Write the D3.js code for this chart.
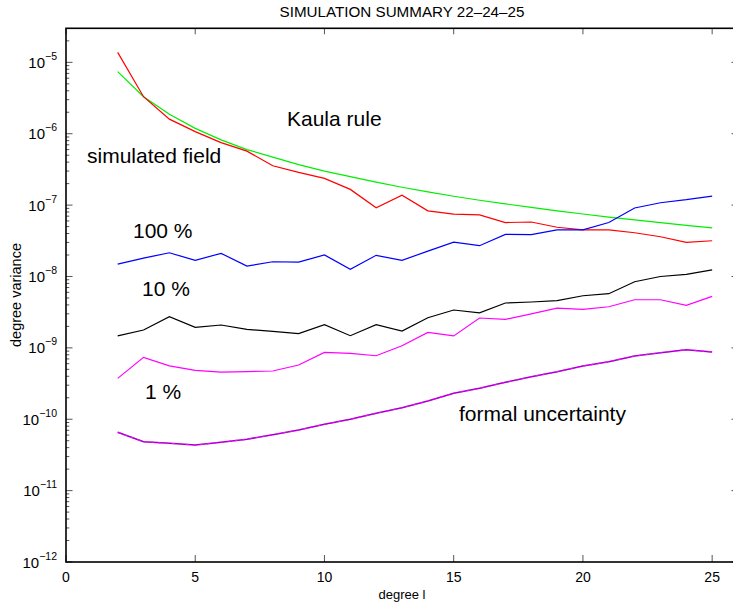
<!DOCTYPE html>
<html>
<head>
<meta charset="utf-8">
<script src="https://cdn.jsdelivr.net/npm/d3@7"></script>
<style>
  body { margin: 0; background: #fff; }
  text { font-family: "Liberation Sans", Arial, Helvetica, sans-serif; }
</style>
</head>
<body>
<svg id="chart" width="733" height="605"></svg>
<script>
// spherical harmonic degree
var degrees = d3.range(2, 26);

// degree variances
var kaula = [7.4e-6, 3.3e-6, 1.87e-6, 1.19e-6, 8.2e-7, 6.0e-7, 4.7e-7, 3.7e-7, 3.0e-7, 2.5e-7,
             2.1e-7, 1.78e-7, 1.53e-7, 1.33e-7, 1.17e-7, 1.04e-7, 9.3e-8, 8.3e-8, 7.5e-8, 6.8e-8,
             6.2e-8, 5.7e-8, 5.2e-8, 4.8e-8];
var simulated = [1.38e-5, 3.3e-6, 1.6e-6, 1.07e-6, 7.5e-7, 5.7e-7, 3.56e-7, 2.87e-7, 2.37e-7, 1.66e-7,
                 9.2e-8, 1.38e-7, 8.3e-8, 7.5e-8, 7.3e-8, 5.7e-8, 5.8e-8, 4.9e-8, 4.5e-8, 4.5e-8,
                 4.1e-8, 3.6e-8, 3.0e-8, 3.17e-8];
var err100 = [1.49e-8, 1.81e-8, 2.15e-8, 1.68e-8, 2.11e-8, 1.4e-8, 1.61e-8, 1.59e-8, 2.0e-8, 1.26e-8,
              1.98e-8, 1.68e-8, 2.27e-8, 3.03e-8, 2.7e-8, 3.89e-8, 3.85e-8, 4.5e-8, 4.5e-8, 5.7e-8,
              9.1e-8, 1.08e-7, 1.19e-7, 1.34e-7];
var err10 = [1.47e-9, 1.78e-9, 2.73e-9, 1.94e-9, 2.09e-9, 1.82e-9, 1.70e-9, 1.58e-9, 2.11e-9, 1.48e-9,
             2.11e-9, 1.72e-9, 2.64e-9, 3.39e-9, 3.1e-9, 4.25e-9, 4.39e-9, 4.58e-9, 5.37e-9, 5.74e-9,
             8.45e-9, 1.0e-8, 1.07e-8, 1.24e-8];
var err1 = [3.74e-10, 7.36e-10, 5.6e-10, 4.84e-10, 4.58e-10, 4.65e-10, 4.74e-10, 5.75e-10, 8.65e-10, 8.38e-10,
            7.76e-10, 1.07e-9, 1.65e-9, 1.47e-9, 2.62e-9, 2.51e-9, 3.0e-9, 3.61e-9, 3.46e-9, 3.77e-9,
            4.72e-9, 4.72e-9, 3.94e-9, 5.27e-9];
var formal = [6.56e-11, 4.84e-11, 4.6e-11, 4.35e-11, 4.75e-11, 5.24e-11, 6.08e-11, 7.07e-11, 8.49e-11, 9.97e-11,
              1.21e-10, 1.45e-10, 1.8e-10, 2.31e-10, 2.71e-10, 3.29e-10, 3.94e-10, 4.63e-10, 5.56e-10, 6.39e-10,
              7.69e-10, 8.55e-10, 9.42e-10, 8.75e-10];

var xTicks = [0, 5, 10, 15, 20, 25];
var yExponents = [-12, -11, -10, -9, -8, -7, -6, -5];

var svg = d3.select('#chart'),
    plotLeft = 66, plotRight = 738, plotTop = 28.3, plotBottom = 562;

var x = d3.scaleLinear().domain([0, 26]).range([plotLeft, plotRight]);
var y = d3.scaleLog().domain([1e-12, 3e-5]).range([plotBottom, plotTop]);

// title
svg.append('text')
    .attr('x', (plotLeft + plotRight) / 2).attr('y', 17)
    .attr('text-anchor', 'middle')
    .style('font-size', '15.2px')
    .text('SIMULATION SUMMARY 22–24–25');

// ticks
var tickG = svg.append('g').attr('stroke', '#555').attr('stroke-width', 1);
xTicks.forEach(function(t) {
  tickG.append('line').attr('x1', x(t)).attr('x2', x(t)).attr('y1', plotBottom).attr('y2', plotBottom - 7);
  tickG.append('line').attr('x1', x(t)).attr('x2', x(t)).attr('y1', plotTop).attr('y2', plotTop + 6);
});
var minor = [];
for (var e = -12; e < -4; e++) {
  for (var m = 1; m < 10; m++) {
    var v = m * Math.pow(10, e);
    if (v <= 3e-5) minor.push({v: v, major: m === 1});
  }
}
minor.forEach(function(d) {
  var len = d.major ? 6.5 : 3.3;
  tickG.append('line').attr('x1', plotLeft).attr('x2', plotLeft + len).attr('y1', y(d.v)).attr('y2', y(d.v));
  tickG.append('line').attr('x1', plotRight).attr('x2', plotRight - len).attr('y1', y(d.v)).attr('y2', y(d.v));
});

// frame
svg.append('rect')
    .attr('x', plotLeft).attr('y', plotTop)
    .attr('width', plotRight - plotLeft).attr('height', plotBottom - plotTop)
    .attr('fill', 'none').attr('stroke', '#000').attr('stroke-width', 1.6);

// x tick labels
xTicks.forEach(function(t) {
  svg.append('text')
      .attr('x', x(t)).attr('y', 582)
      .attr('text-anchor', 'middle')
      .style('font-size', '14px')
      .text(t);
});

// y tick labels: 10 with superscript exponent
yExponents.forEach(function(p) {
  var t = svg.append('text')
      .attr('x', 57).attr('y', y(Math.pow(10, p)) + 5.5)
      .attr('text-anchor', 'end')
      .style('font-size', '15px');
  t.append('tspan').text('10');
  t.append('tspan').attr('dy', -8).style('font-size', '10.5px').text('−' + (-p));
});

// axis titles
svg.append('text')
    .attr('x', (plotLeft + plotRight) / 2).attr('y', 599)
    .attr('text-anchor', 'middle')
    .style('font-size', '13px')
    .text('degree l');
svg.append('text')
    .attr('transform', 'translate(21,295) rotate(-90)')
    .attr('text-anchor', 'middle')
    .style('font-size', '14.5px')
    .text('degree variance');

// curves
var line = d3.line()
    .x(function(d, i) { return x(degrees[i]); })
    .y(function(d) { return y(d); });

var series = [
  {values: kaula, color: '#00ee00'},
  {values: simulated, color: '#ff0000'},
  {values: err100, color: '#0000ff'},
  {values: err10, color: '#000000'},
  {values: err1, color: '#ff00ff'},
  {values: formal, color: '#9a00c8', width: 1.6}
];
series.forEach(function(s) {
  svg.append('path')
      .attr('d', line(s.values))
      .attr('fill', 'none')
      .attr('stroke', s.color)
      .attr('stroke-width', s.width || 1.2);
});
// formal uncertainty is drawn twice, the second one dashed
svg.append('path')
    .attr('d', line(formal))
    .attr('fill', 'none')
    .attr('stroke', '#ff00ff')
    .attr('stroke-width', 1.2)
    .attr('stroke-dasharray', '3,4');

// curve annotations
var notes = [
  {text: 'Kaula rule', x: 287, y: 126},
  {text: 'simulated field', x: 87, y: 163},
  {text: '100 %', x: 133, y: 238},
  {text: '10 %', x: 142, y: 296},
  {text: '1 %', x: 145, y: 399},
  {text: 'formal uncertainty', x: 459, y: 421}
];
notes.forEach(function(n) {
  svg.append('text')
      .attr('x', n.x).attr('y', n.y)
      .style('font-size', '21px')
      .text(n.text);
});
</script>
</body>
</html>
